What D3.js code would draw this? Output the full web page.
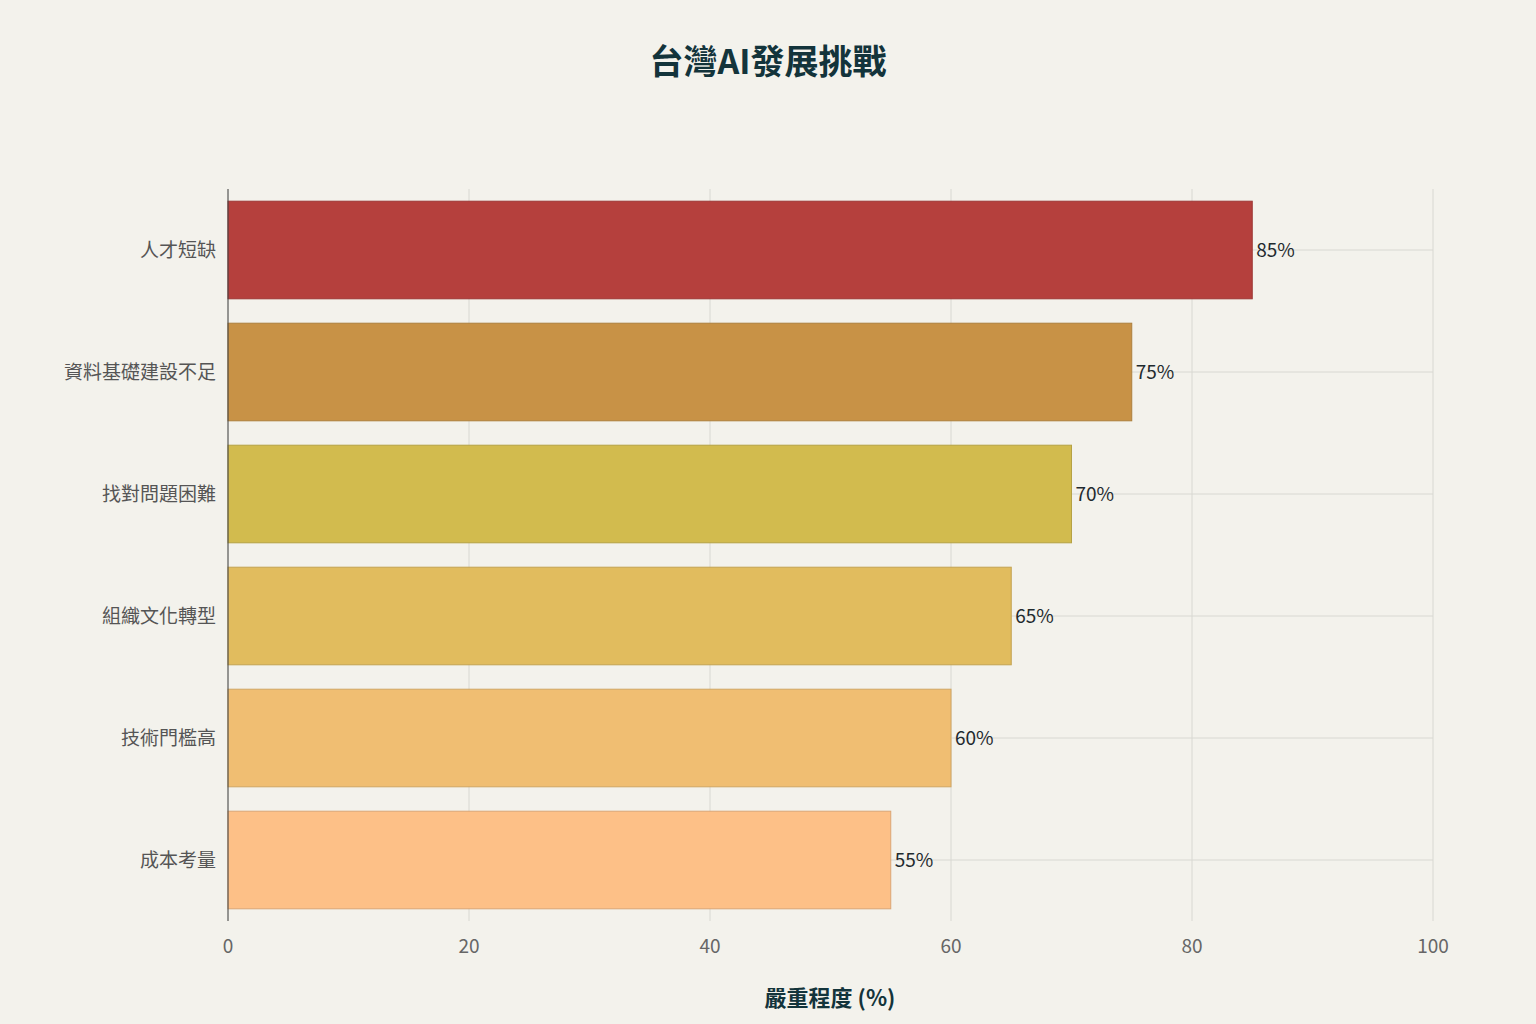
<!DOCTYPE html>
<html><head><meta charset="utf-8">
<script src="https://cdn.jsdelivr.net/npm/d3@7"></script>
<style>body{margin:0;background:#f3f2ec;}svg{display:block;font-family:"Noto Sans CJK TC","Noto Sans",sans-serif;}</style>
</head><body><svg id="c" width="1536" height="1024"></svg>
<script>
const categories=["人才短缺","資料基礎建設不足","找對問題困難","組織文化轉型","技術門檻高","成本考量"];
const values=[85,75,70,65,60,55];
const colors=["#b5403d","#c89246","#d2bb4e","#e1bc5e","#f0be72","#fdc087"];
const xTicks=[0,20,40,60,80,100];
const svg=d3.select("#c");
svg.append("rect").attr("width",1536).attr("height",1024).attr("fill","#f3f2ec");
const x=d3.scaleLinear().domain([0,100]).range([228,1433]);
const y=d3.scaleBand().domain(categories).range([189,921]).paddingInner(0.2).paddingOuter(0.1);
const g=svg.append("g");
g.selectAll(".vg").data(xTicks).join("line").attr("x1",d=>x(d)).attr("x2",d=>x(d)).attr("y1",189).attr("y2",921).attr("stroke","#d8d8d2").attr("stroke-width",1);
g.selectAll(".hg").data(categories).join("line").attr("x1",228).attr("x2",1433).attr("y1",d=>y(d)+y.bandwidth()/2).attr("y2",d=>y(d)+y.bandwidth()/2).attr("stroke","#d8d8d2");
g.selectAll(".bar").data(categories).join("rect").attr("x",x(0)).attr("y",d=>y(d)).attr("width",(d,i)=>x(values[i])-x(0)).attr("height",y.bandwidth()).attr("fill",(d,i)=>colors[i]).attr("stroke",(d,i)=>d3.color(colors[i]).darker(0.4)).attr("stroke-width",1);
g.selectAll(".lbl").data(categories).join("text").attr("x",(d,i)=>x(values[i])+4).attr("y",d=>y(d)+y.bandwidth()/2).attr("dy","0.35em").attr("font-size",19).attr("fill","#1f2a2e").text((d,i)=>values[i]+"%");
svg.append("line").attr("x1",228).attr("x2",228).attr("y1",189).attr("y2",921).attr("stroke","#444");
svg.selectAll(".yl").data(categories).join("text").attr("x",216).attr("y",d=>y(d)+y.bandwidth()/2).attr("dy","0.35em").attr("text-anchor","end").attr("font-size",19).attr("fill","#555").text(d=>d);
svg.selectAll(".xl").data(xTicks).join("text").attr("x",d=>x(d)).attr("y",953).attr("text-anchor","middle").attr("font-size",19).attr("fill","#666").text(d=>d);
svg.append("text").attr("x",830).attr("y",1006).attr("text-anchor","middle").attr("font-size",22).attr("font-weight","bold").attr("fill","#13343b").text("嚴重程度 (%)");
svg.append("text").attr("x",768).attr("y",74).attr("text-anchor","middle").attr("font-size",34).attr("font-weight","bold").attr("fill","#13343b").text("台灣AI發展挑戰");
</script></body></html>
